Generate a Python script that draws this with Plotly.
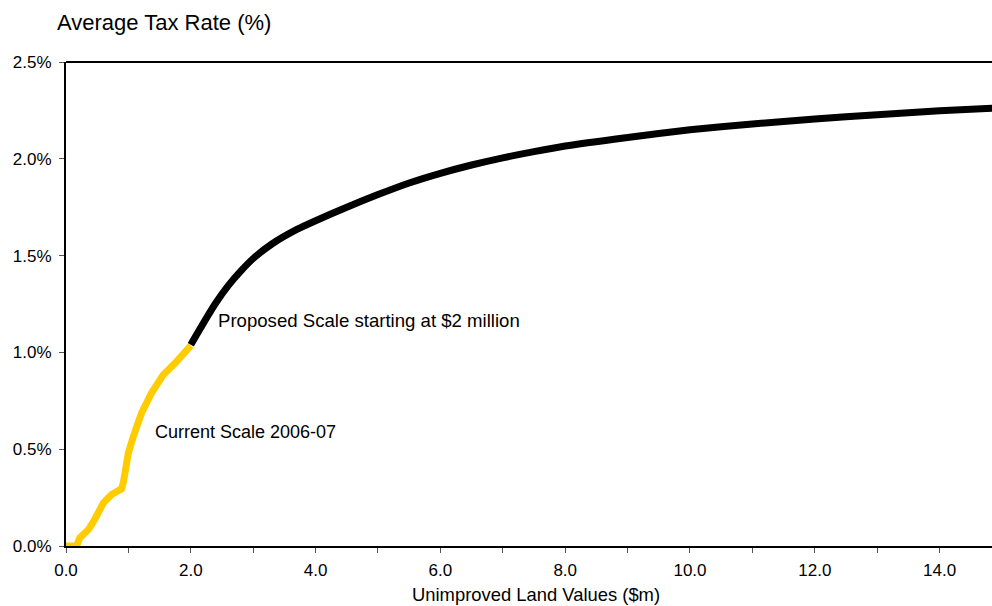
import plotly.graph_objects as go

# Average tax rate (%) by unimproved land value ($m)
current_x = [0.0, 0.17, 0.22, 0.36, 0.46, 0.53, 0.60, 0.73, 0.84, 0.89, 0.92, 0.95,
             1.00, 1.08, 1.21, 1.37, 1.56, 1.75, 2.00]
current_y = [0.0, 0.0, 0.042, 0.085, 0.137, 0.18, 0.223, 0.266, 0.285, 0.295, 0.33, 0.395,
             0.481, 0.567, 0.687, 0.79, 0.885, 0.945, 1.035]

proposed_x = [2.00, 2.20, 2.40, 2.60, 2.80, 3.00, 3.30, 3.70, 4.00, 4.50, 5.00, 5.50,
              6.00, 6.50, 7.00, 7.50, 8.00, 9.00, 10.00, 11.00, 12.00, 13.00, 14.00, 14.90]
proposed_y = [1.04, 1.15, 1.255, 1.345, 1.42, 1.485, 1.56, 1.635, 1.68, 1.75, 1.815, 1.875,
              1.925, 1.968, 2.005, 2.037, 2.066, 2.11, 2.15, 2.18, 2.205, 2.228, 2.248, 2.262]

y_ticks = [0.0, 0.5, 1.0, 1.5, 2.0, 2.5]
x_ticks = [0, 2, 4, 6, 8, 10, 12, 14]

FONT = "Liberation Sans, Arial, sans-serif"

fig = go.Figure()
fig.add_trace(go.Scatter(x=current_x, y=current_y, mode="lines",
                         line=dict(color="#FFCC00", width=7),
                         showlegend=False, hoverinfo="skip"))
fig.add_trace(go.Scatter(x=proposed_x, y=proposed_y, mode="lines",
                         line=dict(color="#000000", width=7, shape="spline", smoothing=0.6),
                         showlegend=False, hoverinfo="skip"))

fig.update_layout(
    width=992, height=606,
    margin=dict(l=66, r=0, t=62, b=60),
    paper_bgcolor="white", plot_bgcolor="white",
    font=dict(family=FONT, size=17, color="#000000"),
    xaxis=dict(range=[0, 14.84], tickvals=x_ticks,
               ticktext=[f"{v:.1f}" for v in x_ticks],
               showgrid=False, zeroline=False, showline=True,
               linecolor="#000000", linewidth=2,
               ticks="outside", ticklen=5, tickcolor="#555555", tickwidth=1,
               ticklabelstandoff=3,
               minor=dict(dtick=1, tick0=0, ticks="outside", ticklen=5,
                          tickcolor="#555555", tickwidth=1, showgrid=False),
               tickfont=dict(size=17), fixedrange=True),
    yaxis=dict(range=[0, 2.5], tickvals=y_ticks,
               ticktext=[f"{v:.1f}%" for v in y_ticks],
               showgrid=False, zeroline=False, showline=True,
               linecolor="#000000", linewidth=2,
               ticks="outside", ticklen=5, tickcolor="#555555", tickwidth=1,
               ticklabelstandoff=4,
               tickfont=dict(size=17), fixedrange=True),
    shapes=[dict(type="line", xref="paper", yref="paper", x0=0, x1=1, y0=1, y1=1,
                 line=dict(color="#000000", width=2))],
    annotations=[
        dict(text="Average Tax Rate (%)", xref="paper", yref="paper",
             x=-0.012, y=1.0826, xanchor="left", yanchor="middle",
             showarrow=False, font=dict(size=22)),
        dict(text="Unimproved Land Values ($m)", xref="paper", yref="paper",
             x=0.5076, y=-0.1, xanchor="center", yanchor="middle",
             showarrow=False, font=dict(size=18.4)),
        dict(text="Proposed Scale starting at $2 million", x=2.40, y=1.163,
             xanchor="left", yanchor="middle", showarrow=False, font=dict(size=18.6)),
        dict(text="Current Scale 2006-07", x=1.39, y=0.591,
             xanchor="left", yanchor="middle", showarrow=False, font=dict(size=18)),
    ],
)

fig.write_html("out.html")
